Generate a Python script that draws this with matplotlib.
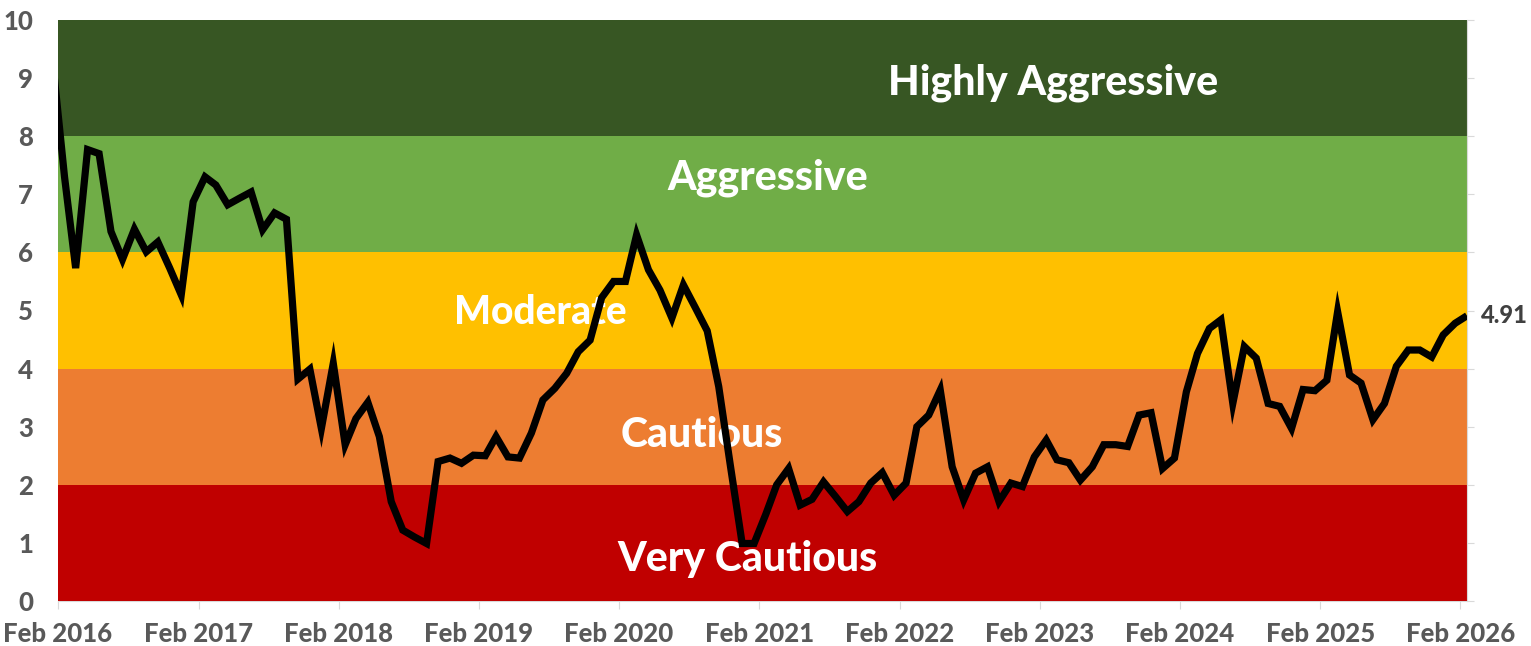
import matplotlib
matplotlib.use("Agg")
import matplotlib.pyplot as plt
import pandas as pd

# ---- data ----
start_month = "2016-01-01"
values = [
    9.30, 7.30, 5.73, 7.77, 7.70, 6.36, 5.88, 6.40, 6.01, 6.18, 5.73, 5.27,   # Jan16-Dec16
    6.87, 7.30, 7.16, 6.82, 6.93, 7.04, 6.39, 6.68, 6.57, 3.82, 3.99, 2.97,   # Jan17-Dec17
    4.09, 2.69, 3.14, 3.42, 2.83, 1.71, 1.22, 1.10, 0.99, 2.40, 2.46, 2.37,   # Jan18-Dec18
    2.51, 2.50, 2.83, 2.48, 2.46, 2.89, 3.46, 3.66, 3.92, 4.29, 4.49, 5.22,   # Jan19-Dec19
    5.50, 5.50, 6.30, 5.70, 5.35, 4.87, 5.44, 5.05, 4.65, 3.69, 2.30, 0.99,   # Jan20-Dec20
    0.99, 1.50, 2.00, 2.28, 1.65, 1.75, 2.05, 1.80, 1.54, 1.71, 2.03, 2.21,   # Jan21-Dec21
    1.82, 2.03, 3.00, 3.20, 3.63, 2.31, 1.74, 2.20, 2.31, 1.71, 2.03, 1.97,   # Jan22-Dec22
    2.48, 2.77, 2.43, 2.38, 2.08, 2.31, 2.69, 2.69, 2.66, 3.20, 3.24, 2.28,   # Jan23-Dec23
    2.46, 3.60, 4.26, 4.69, 4.84, 3.40, 4.38, 4.18, 3.40, 3.35, 2.97, 3.64,   # Jan24-Dec24
    3.62, 3.80, 4.98, 3.89, 3.75, 3.12, 3.40, 4.04, 4.32, 4.32, 4.20, 4.58,   # Jan25-Dec25
    4.78, 4.91,                                                               # Jan26-Feb26
]
dates = pd.date_range(start=start_month, periods=len(values), freq="MS") + pd.Timedelta(days=17)

band_edges = [0, 2, 4, 6, 8, 10]
band_names = ["Very Cautious", "Cautious", "Moderate", "Aggressive", "Highly Aggressive"]
band_colors = ["#C00000", "#ED7D31", "#FFC000", "#70AD47", "#375623"]
band_label_x = ["2021-01-01", "2020-09-04", "2019-07-10", "2021-02-22", "2023-03-08"]
band_label_y = [0.72, 2.86, 4.97, 7.28, 8.92]

tick_years = list(range(2016, 2027))
tick_labels = [f"Feb {y}" for y in tick_years]

# ---- plot ----
plt.rcParams["font.family"] = ["Lato", "DejaVu Sans"]
fig = plt.figure(figsize=(15.31, 6.46), dpi=100)
ax = fig.add_axes([58 / 1531, 1 - 601 / 646, (1467 - 58) / 1531, (601 - 20) / 646])

x0 = pd.Timestamp("2016-02-01")
x1 = dates[-1]
for lo, hi, c in zip(band_edges[:-1], band_edges[1:], band_colors):
    ax.axhspan(lo, hi, color=c, lw=0, zorder=1)

for name, bx, by in zip(band_names, band_label_x, band_label_y):
    fs = 28 if name == "Moderate" else 29.5
    ax.text(pd.Timestamp(bx), by, name, color="white", fontsize=fs, fontweight="black",
            ha="center", va="center", zorder=2)

ax.plot(dates, values, color="black", lw=5.2, zorder=3, solid_joinstyle="miter",
        solid_capstyle="butt")

ax.annotate(f"{values[-1]:.2f}", xy=(dates[-1], values[-1]), xytext=(10, 0),
            textcoords="offset points", va="center", ha="left", fontsize=17,
            fontweight="black", color="#404040", annotation_clip=False)

ax.set_xlim(x0, x1)
ax.set_ylim(0, 10)
ax.set_yticks(range(0, 11))
ax.set_xticks([pd.Timestamp(f"{y}-02-01") for y in tick_years])
ax.set_xticklabels(tick_labels)

for s in ["top", "left"]:
    ax.spines[s].set_visible(False)
ax.spines["bottom"].set_color("#D9D9D9")
ax.spines["right"].set_color("#D9D9D9")
ax.spines["bottom"].set_zorder(0)
ax.tick_params(axis="x", length=6, color="#D9D9D9", pad=9, labelsize=18.5,
               labelcolor="#595959")
ax.tick_params(axis="y", left=False, right=True, labelleft=True, labelright=False,
               length=5, color="#D9D9D9", pad=13, labelsize=18.5, labelcolor="#595959")
for lab in ax.get_xticklabels() + ax.get_yticklabels():
    lab.set_fontweight("black")

fig.savefig("out.png", dpi=100)
